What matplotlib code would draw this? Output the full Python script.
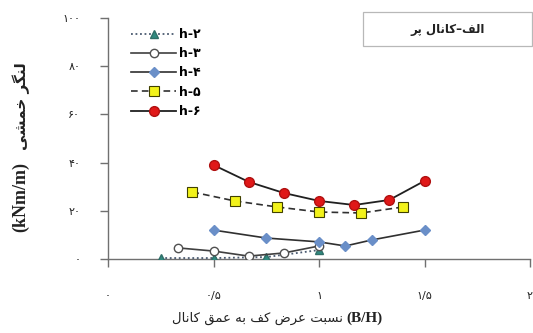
import matplotlib
matplotlib.use("Agg")
import matplotlib.pyplot as plt
from matplotlib.patches import Rectangle

# ---------------- data ----------------
x_h2 = [0.25, 0.5, 0.75, 1.0]
y_h2 = [0.4, 0.4, 0.8, 3.7]
x_h3 = [0.333, 0.5, 0.667, 0.833, 1.0]
y_h3 = [4.6, 3.3, 1.2, 2.5, 5.4]
x_h4 = [0.5, 0.75, 1.0, 1.125, 1.25, 1.5]
y_h4 = [12.0, 8.7, 7.1, 5.4, 7.9, 12.0]
x_h5 = [0.4, 0.6, 0.8, 1.0, 1.2, 1.4]
y_h5 = [27.8, 24.1, 21.6, 19.5, 19.1, 21.6]
x_h6 = [0.5, 0.667, 0.833, 1.0, 1.167, 1.333, 1.5]
y_h6 = [39.0, 32.0, 27.4, 24.1, 22.4, 24.5, 32.4]

series_labels = ["h-\u06f2", "h-\u06f3", "h-\u06f4", "h-\u06f5", "h-\u06f6"]
x_ticks = [0, 0.5, 1, 1.5, 2]
x_ticklabels = ["\u06f0", "\u06f0/\u06f5", "\u06f1", "\u06f1/\u06f5", "\u06f2"]
y_ticks = [0, 20, 40, 60, 80, 100]
y_ticklabels = ["\u06f0", "\u06f2\u06f0", "\u06f4\u06f0", "\u06f6\u06f0", "\u06f8\u06f0", "\u06f1\u06f0\u06f0"]

# ---------------- Persian shaping ----------------
FORMS = {
    'ا': (0xFE8D, 0xFE8E, None, None),
    'ر': (0xFEAD, 0xFEAE, None, None),
    'ب': (0xFE8F, 0xFE90, 0xFE91, 0xFE92),
    'ت': (0xFE95, 0xFE96, 0xFE97, 0xFE98),
    'خ': (0xFEA5, 0xFEA6, 0xFEA7, 0xFEA8),
    'س': (0xFEB1, 0xFEB2, 0xFEB3, 0xFEB4),
    'ش': (0xFEB5, 0xFEB6, 0xFEB7, 0xFEB8),
    'ض': (0xFEBD, 0xFEBE, 0xFEBF, 0xFEC0),
    'ع': (0xFEC9, 0xFECA, 0xFECB, 0xFECC),
    'ف': (0xFED1, 0xFED2, 0xFED3, 0xFED4),
    'ق': (0xFED5, 0xFED6, 0xFED7, 0xFED8),
    'ل': (0xFEDD, 0xFEDE, 0xFEDF, 0xFEE0),
    'م': (0xFEE1, 0xFEE2, 0xFEE3, 0xFEE4),
    'ن': (0xFEE5, 0xFEE6, 0xFEE7, 0xFEE8),
    'ه': (0xFEE9, 0xFEEA, 0xFEEB, 0xFEEC),
    'پ': (0xFB56, 0xFB57, 0xFB58, 0xFB59),
    'ک': (0xFB8E, 0xFB8F, 0xFB90, 0xFB91),
    'گ': (0xFB92, 0xFB93, 0xFB94, 0xFB95),
    'ی': (0xFBFC, 0xFBFD, 0xFBFE, 0xFBFF),
}


def shape_word(w):
    out = []
    n = len(w)
    for i, c in enumerate(w):
        if c not in FORMS:
            out.append(c)
            continue
        iso, fin, ini, med = FORMS[c]
        prev_j = i > 0 and w[i - 1] in FORMS and FORMS[w[i - 1]][2] is not None
        next_j = i < n - 1 and w[i + 1] in FORMS and ini is not None
        if prev_j and next_j:
            f = med
        elif prev_j:
            f = fin
        elif next_j:
            f = ini
        else:
            f = iso
        out.append(chr(f))
    return "".join(reversed(out))


def visual(words, sep=" "):
    return sep.join(shape_word(w) for w in words)


xlabel_fa = visual(["کانال", "عمق", "به", "کف", "عرض", "نسبت"])
ylabel_fa = visual(["خمشی", "لنگر"])
title_fa = shape_word("پر") + " " + shape_word("کانال") + "\u2013" + shape_word("الف")

plt.rcParams['font.family'] = ['DejaVu Sans']

W, H = 533, 333
fig = plt.figure(figsize=(W / 100, H / 100), dpi=100)
ax = fig.add_axes([108 / W, 1 - 259 / H, (530 - 108) / W, (259 - 18) / H])

ax.plot(x_h2, y_h2, linestyle=(0, (1, 1.5)), color="#4a5a70", lw=1.3,
        marker="^", ms=5.5, mfc="#2f8a80", mec="#2f6f68", label=series_labels[0], zorder=3)
ax.plot(x_h3, y_h3, linestyle="-", color="#404040", lw=1.2,
        marker="o", ms=6, mfc="white", mec="#505050", label=series_labels[1], zorder=3)
ax.plot(x_h4, y_h4, linestyle="-", color="#303030", lw=1.2,
        marker="D", ms=5.5, mfc="#6a8fc8", mec="#6a8fc8", label=series_labels[2], zorder=3)
ax.plot(x_h5, y_h5, linestyle=(0, (4, 2.5)), color="#303030", lw=1.2,
        marker="s", ms=6.5, mfc="#f2f21a", mec="#404000", mew=0.8, label=series_labels[3], zorder=3)
ax.plot(x_h6, y_h6, linestyle="-", color="#202020", lw=1.3,
        marker="o", ms=7, mfc="#e01818", mec="#b01010", label=series_labels[4], zorder=3)

ax.set_xlim(0, 2)
ax.set_ylim(0, 100)
ax.set_xticks(x_ticks)
ax.set_xticklabels(x_ticklabels)
ax.set_yticks(y_ticks)
ax.set_yticklabels(y_ticklabels)
for s in ["top", "right"]:
    ax.spines[s].set_visible(False)
for s in ["left", "bottom"]:
    ax.spines[s].set_color("#707070")
    ax.spines[s].set_linewidth(1.0)
ax.tick_params(axis="both", direction="out", length=6, width=1.0, color="#707070",
               labelsize=8, labelcolor="#222222")
ax.tick_params(axis="x", pad=17)
ax.tick_params(axis="y", pad=14)

leg = ax.legend(loc="upper left", bbox_to_anchor=(131 / W, 1 - 28 / H),
                bbox_transform=fig.transFigure, frameon=False, borderpad=0,
                borderaxespad=0, handlelength=3.6, handletextpad=0.25,
                labelspacing=0.5, prop={"weight": "bold", "size": 9})

# title box
fig.patches.append(Rectangle((363 / W, 1 - 46 / H), (532 - 363) / W, 34 / H,
                             transform=fig.transFigure, fill=False,
                             edgecolor="#b8b8b8", lw=0.9))
fig.text(448 / W, 1 - 29 / H, title_fa, ha="center", va="center",
         fontsize=8.5, fontweight="bold", color="#222222")

# x label
fig.text(343 / W, 1 - 318 / H, xlabel_fa, ha="right", va="center",
         fontsize=9.5, color="#222222")
fig.text(346 / W, 1 - 318 / H, "(B/H)", ha="left", va="center",
         fontsize=11, fontweight="bold", family="Liberation Serif", color="#222222")

# y label
fig.text(21 / W, 1 - 197 / H, "(kNm/m)", ha="center", va="center", rotation=90,
         fontsize=13, fontweight="bold", family="Liberation Serif", color="#222222")
fig.text(21 / W, 1 - 106 / H, ylabel_fa, ha="center", va="center", rotation=90,
         fontsize=11, fontweight="bold", color="#222222")

fig.savefig("out.png", dpi=100)
